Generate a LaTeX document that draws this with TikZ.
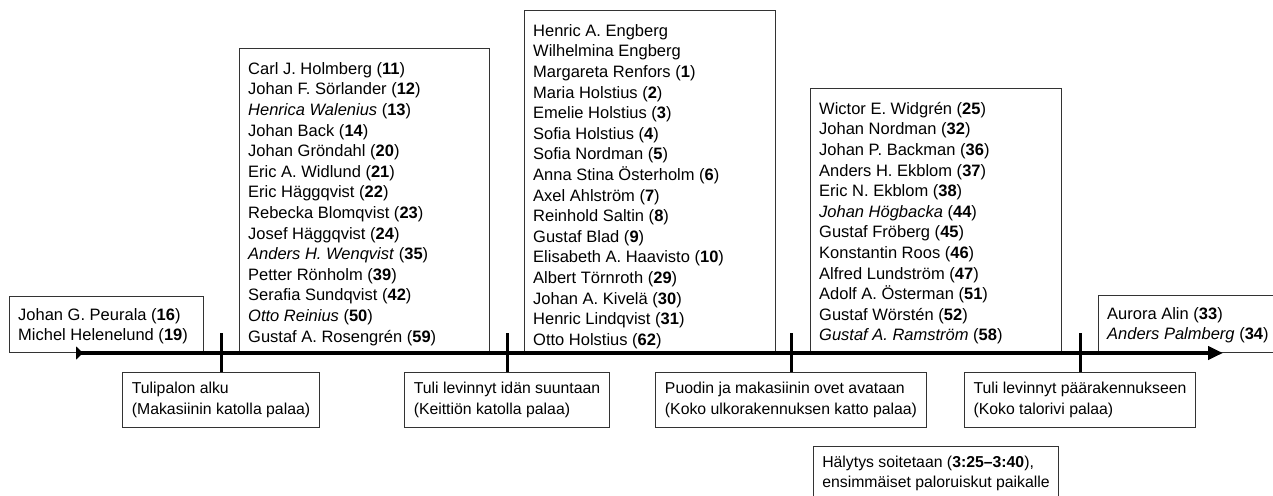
\documentclass[tikz,border=0pt]{standalone}
\usepackage{fontspec}
\setmainfont{Liberation Sans}
\usetikzlibrary{arrows.meta}
\newcommand{\nmb}[1]{(\textbf{#1})}
\begin{document}
\begin{tikzpicture}[x=1pt,y=-1pt,
  box/.style={draw=black!80, line width=1pt, inner sep=0pt, anchor=south west},
  lst/.style={anchor=north west, align=left, inner sep=0pt, font=\fontsize{16.5}{20.6}\selectfont},
  evbox/.style={draw=black!80, line width=1pt, anchor=north, align=left, inner xsep=9pt, inner ysep=0pt, minimum height=55pt, font=\fontsize{15.8}{20.5}\selectfont},
  tickline/.style={line width=3pt},
  axisline/.style={line width=4pt, {Triangle[reversed,length=7pt,width=13pt]}-{Triangle[length=15pt,width=13pt]}}]
\useasboundingbox (0,0) rectangle (1273,495);

% upper boxes
\node[box, minimum width=194pt, minimum height=56pt] (boxA) at (9,353) {};
\node[box, minimum width=250pt, minimum height=304pt] (boxB) at (239,353) {};
\node[box, minimum width=251pt, minimum height=342pt] (boxC) at (524,353) {};
\node[box, minimum width=251pt, minimum height=264pt] (boxD) at (810,353) {};
\node[box, minimum width=200pt, minimum height=57pt] (boxE) at (1098,353) {};

\node[lst] (txtA) at (18,305.6) {\strut Johan G. Peurala \nmb{16}\\Michel Helenelund \nmb{19}};
\node[lst] (txtB) at (248,59.6) {\strut Carl J. Holmberg \nmb{11}\\
Johan F. Sörlander \nmb{12}\\
\textit{Henrica Walenius} \nmb{13}\\
Johan Back \nmb{14}\\
Johan Gröndahl \nmb{20}\\
Eric A. Widlund \nmb{21}\\
Eric Häggqvist \nmb{22}\\
Rebecka Blomqvist \nmb{23}\\
Josef Häggqvist \nmb{24}\\
\textit{Anders H. Wenqvist} \nmb{35}\\
Petter Rönholm \nmb{39}\\
Serafia Sundqvist \nmb{42}\\
\textit{Otto Reinius} \nmb{50}\\
Gustaf A. Rosengrén \nmb{59}};
\node[lst] (txtC) at (533,21.6) {\strut Henric A. Engberg\\
Wilhelmina Engberg\\
Margareta Renfors \nmb{1}\\
Maria Holstius \nmb{2}\\
Emelie Holstius \nmb{3}\\
Sofia Holstius \nmb{4}\\
Sofia Nordman \nmb{5}\\
Anna Stina Österholm \nmb{6}\\
Axel Ahlström \nmb{7}\\
Reinhold Saltin \nmb{8}\\
Gustaf Blad \nmb{9}\\
Elisabeth A. Haavisto \nmb{10}\\
Albert Törnroth \nmb{29}\\
Johan A. Kivelä \nmb{30}\\
Henric Lindqvist \nmb{31}\\
Otto Holstius \nmb{62}};
\node[lst] (txtD) at (819,99.6) {\strut Wictor E. Widgrén \nmb{25}\\
Johan Nordman \nmb{32}\\
Johan P. Backman \nmb{36}\\
Anders H. Ekblom \nmb{37}\\
Eric N. Ekblom \nmb{38}\\
\textit{Johan Högbacka} \nmb{44}\\
Gustaf Fröberg \nmb{45}\\
Konstantin Roos \nmb{46}\\
Alfred Lundström \nmb{47}\\
Adolf A. Österman \nmb{51}\\
Gustaf Wörstén \nmb{52}\\
\textit{Gustaf A. Ramström} \nmb{58}};
\node[lst] (txtE) at (1107,304.6) {\strut Aurora Alin \nmb{33}\\\textit{Anders Palmberg} \nmb{34}};

% event boxes
\node[evbox] (ev1) at (221,372) {\strut Tulipalon alku\\\strut(Makasiinin katolla palaa)};
\node[evbox] (ev2) at (507,372) {\strut Tuli levinnyt idän suuntaan\\\strut(Keittiön katolla palaa)};
\node[evbox] (ev3) at (791,372) {\strut Puodin ja makasiinin ovet avataan\\\strut(Koko ulkorakennuksen katto palaa)};
\node[evbox] (ev4) at (1080,372) {\strut Tuli levinnyt päärakennukseen\\\strut(Koko talorivi palaa)};
\node[evbox] (ev5) at (936,445.5) {\strut Hälytys soitetaan (\textbf{3:25–3:40}),\\\strut ensimmäiset paloruiskut paikalle};

% axis
\coordinate (axstart) at (76,353);
\coordinate (axend) at (1223,353);
\draw[axisline] (axstart) -- (axend);

% ticks
\coordinate (t1) at (221,333);
\coordinate (t2) at (507,333);
\coordinate (t3) at (791,333);
\coordinate (t4) at (1080,333);
\draw[tickline] (t1) -- (ev1.north);
\draw[tickline] (t2) -- (ev2.north);
\draw[tickline] (t3) -- (ev3.north);
\draw[tickline] (t4) -- (ev4.north);
\end{tikzpicture}
\end{document}
